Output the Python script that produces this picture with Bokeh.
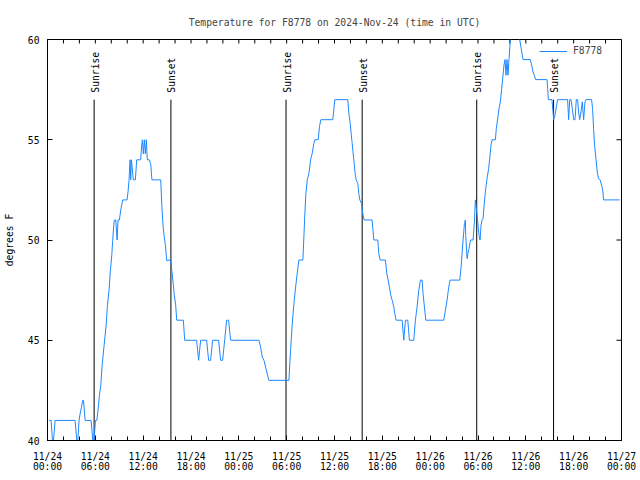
from math import pi
from bokeh.plotting import figure
from bokeh.models import Range1d, FixedTicker, Legend, LegendItem, ColumnDataSource
from bokeh.core.properties import value
from bokeh.embed import file_html
from bokeh.resources import INLINE

# ---- data (hours since 2024-11-24 00:00 UTC, degrees F) ----
hours = [0.20, 0.45, 0.62, 0.75, 0.96, 3.46, 3.67, 3.80, 3.96, 4.09, 4.26, 4.42, 4.51, 4.72,
         5.47, 5.68, 5.84, 6.01, 6.18, 6.34, 6.51, 6.68, 6.85, 7.10, 7.35, 7.52, 7.72, 7.89,
         8.06, 8.18, 8.31, 8.39, 8.56, 8.73, 8.85, 9.02, 9.19, 9.44, 9.98, 10.10, 10.23,
         10.36, 10.44, 10.52, 10.77, 11.02, 11.19, 11.69, 11.81, 11.90, 12.02, 12.15, 12.27,
         12.40, 12.52, 12.77, 12.94, 13.10, 14.20, 14.37, 14.49, 14.62, 14.79, 14.95, 15.45,
         15.66, 15.79, 15.91, 16.08, 16.21, 17.04, 17.21, 18.71, 18.83, 18.96, 19.08, 19.21,
         19.96, 20.21, 20.46, 20.71, 21.46, 21.72, 21.97, 22.22, 22.47, 22.72, 22.97, 26.52,
         26.73, 26.94, 27.15, 27.36, 27.56, 27.77, 30.28, 30.49, 30.70, 30.91, 31.12, 31.32,
         31.53, 32.03, 32.16, 32.28, 32.41, 32.58, 32.79, 33.00, 33.20, 33.41, 33.54, 33.96,
         34.12, 34.29, 35.79, 36.04, 37.67, 37.80, 37.97, 38.09, 38.22, 38.34, 38.47, 38.59,
         38.72, 38.93, 39.05, 39.18, 39.39, 39.55, 39.72, 40.72, 40.93, 41.43, 41.56, 41.73,
         42.39, 42.56, 42.73, 42.89, 43.06, 43.23, 43.44, 43.56, 43.73, 44.48, 44.69, 44.90,
         45.19, 45.40, 45.94, 46.15, 46.36, 46.57, 46.78, 46.99, 47.11, 47.28, 47.45, 49.70,
         49.91, 50.12, 50.33, 50.50, 51.71, 51.88, 52.00, 52.13, 52.30, 52.42, 52.46, 52.63,
         52.76, 52.88, 53.05, 53.38, 53.55, 53.67, 53.80, 53.97, 54.13, 54.26, 54.38, 54.51,
         54.63, 54.80, 54.97, 55.13, 55.34, 55.47, 55.63, 55.76, 56.18, 56.30, 56.47, 56.64,
         56.80, 56.97, 57.14, 57.26, 57.39, 57.51, 57.64, 57.76, 57.89, 58.06, 58.30, 59.00,
         59.23, 59.65, 60.56, 60.73, 60.89, 61.06, 61.23, 62.65, 62.74, 62.82, 63.28, 63.41,
         63.49, 63.66, 63.83, 63.99, 65.24, 65.37, 65.50, 65.66, 65.83, 66.00, 66.17, 66.33,
         66.50, 66.62, 66.75, 66.92, 67.08, 67.25, 67.42, 67.54, 68.25, 68.37, 68.50, 68.62,
         68.79, 68.96, 69.12, 69.33, 69.54, 69.67, 69.75, 71.76]
temps = [41, 41, 40, 40, 41, 41, 40, 40, 41, 41.33, 41.66, 42, 42, 41,
         41, 40, 40, 41, 41, 41.5, 42.25, 42.75, 43.74, 44.74, 45.74, 46.74, 47.49, 48.49,
         49.23, 49.98, 50.73, 51, 51, 50, 51, 51, 51.5, 52, 52, 52.4, 53,
         54, 53, 54, 53, 53, 54, 54, 54.7, 55, 54.3, 55, 54.3,
         55, 54, 54, 53.8, 53, 53, 51.48, 50.73, 50.23, 49.73, 48.98, 49,
         48.24, 47.74, 47.24, 46.74, 46, 46, 45, 45, 44.5, 44, 44.5, 45,
         45, 44, 44, 45, 45, 44, 44, 45, 46, 46, 45, 45,
         44.67, 44.16, 44, 43.66, 43.33, 43, 43, 44.49, 45.82, 46.82, 47.65, 48.32,
         49, 49, 50.15, 51.31, 52.31, 53, 53.31, 54, 54.31, 54.81, 55, 55,
         55.67, 56, 56, 57, 57, 56.31, 55.81, 55.31, 54.81, 54.31, 53.81, 53.31,
         53, 52.81, 52.31, 52, 51.81, 51.31, 51, 51, 50, 50, 49.32, 49,
         49, 48.32, 48, 47.65, 47.24, 47, 46.66, 46.33, 46, 46, 45, 46,
         46, 45, 45, 46, 46.66, 47.49, 48, 48, 47.32, 46.66, 46, 46,
         46.49, 47, 47.65, 48, 48, 48.65, 49.32, 50, 50.82, 51, 50.23, 49.07,
         49.4, 49.57, 50, 50, 50.9, 52, 51.56, 50.9, 50.23, 50, 50.73, 51,
         51.06, 51.9, 52.56, 53.06, 53.56, 54.06, 54.73, 55, 55, 55.56, 56.06, 56.56,
         56.89, 57.55, 58.22, 58.72, 59, 58.22, 59, 58.22, 59, 60, 61, 61,
         60, 59, 59, 58.72, 58.39, 58.22, 58, 58, 57.55, 57, 57, 56.39,
         56, 56.22, 56.64, 57, 57, 56, 57, 57, 56.56, 56, 56, 57,
         57, 56.39, 56, 56.39, 56.89, 56, 56.89, 57, 57, 56.56, 55.56, 54.73,
         54.06, 53.39, 53.06, 53, 52.68, 52.4, 52, 52]

event_hours = [5.85, 15.48, 29.92, 39.47, 53.84, 63.48]
event_labels = ["Sunrise", "Sunset", "Sunrise", "Sunset", "Sunrise", "Sunset"]

x_ticks = [0, 6, 12, 18, 24, 30, 36, 42, 48, 54, 60, 66, 72]
x_tick_labels = ["11/24\n00:00", "11/24\n06:00", "11/24\n12:00", "11/24\n18:00",
                 "11/25\n00:00", "11/25\n06:00", "11/25\n12:00", "11/25\n18:00",
                 "11/26\n00:00", "11/26\n06:00", "11/26\n12:00", "11/26\n18:00",
                 "11/27\n00:00"]
x_minor_ticks = list(range(0, 73, 2))
y_ticks = [40, 45, 50, 55, 60]

X0, X1, Y0, Y1 = 0, 72, 40, 60
FONT = "DejaVu Sans Mono"
FS = "9.7px"
LINE_COLOR = "#1e88ff"
W, H = 640, 480
BL, BR, BT, BB = 47, 19, 39, 40
TICK_PX = 5

p = figure(width=W, height=H, x_range=Range1d(X0, X1), y_range=Range1d(Y0, Y1),
           output_backend="svg", toolbar_location=None,
           min_border_left=BL, min_border_right=BR, min_border_top=BT, min_border_bottom=BB,
           title="Temperature for F8778 on 2024-Nov-24 (time in UTC)")
p.title.text_font = FONT
p.title.text_font_size = FS
p.title.text_font_style = "normal"
p.title.align = "center"
p.title.standoff = 24
p.grid.visible = False
p.outline_line_color = "black"
p.outline_line_width = 1
p.background_fill_color = "white"
p.border_fill_color = "white"

xa = p.xaxis[0]
xa.ticker = FixedTicker(ticks=x_ticks, minor_ticks=x_minor_ticks)
xa.major_label_overrides = {t: lab for t, lab in zip(x_ticks, x_tick_labels)}
ya = p.yaxis[0]
ya.ticker = FixedTicker(ticks=y_ticks, minor_ticks=[])
ya.axis_label = "degrees F"
ya.axis_label_text_font_style = "normal"
ya.axis_label_standoff = 10

for ax in (xa, ya):
    ax.major_label_text_font = FONT
    ax.major_label_text_font_size = FS
    ax.axis_label_text_font = FONT
    ax.axis_label_text_font_size = FS
    ax.major_tick_in = TICK_PX
    ax.major_tick_out = 0
    ax.minor_tick_in = TICK_PX - 1
    ax.minor_tick_out = 0
    ax.axis_line_color = "black"
    ax.major_tick_line_color = "black"
    ax.minor_tick_line_color = "black"
    ax.major_label_text_color = "black"
    ax.axis_label_text_color = "black"
xa.major_label_standoff = 10
xa.major_label_text_line_height = 0.95
ya.major_label_standoff = 8

# mirrored ticks on the top and right borders (from the tick arrays)
px_per_x = (W - BL - BR) / (X1 - X0)
px_per_y = (H - BT - BB) / (Y1 - Y0)
p.segment(x0=x_minor_ticks, y0=[Y1] * len(x_minor_ticks), x1=x_minor_ticks,
          y1=[Y1 - (TICK_PX - 1) / px_per_y] * len(x_minor_ticks),
          line_color="black", line_width=1)
p.segment(x0=[X1] * len(y_ticks), y0=y_ticks, x1=[X1 - TICK_PX / px_per_x] * len(y_ticks),
          y1=y_ticks, line_color="black", line_width=1)

# sunrise / sunset markers
ev = ColumnDataSource(dict(x=event_hours, label=event_labels))
p.segment(x0="x", y0=Y0, x1="x", y1=57, source=ev, line_color="black", line_width=1)
p.text(x="x", y=57.35, text="label", source=ev, angle=pi / 2, text_align="left",
       text_baseline="middle", text_font=value(FONT), text_font_size=FS,
       text_color="black", x_offset=1)

r = p.line(hours, temps, line_color=LINE_COLOR, line_width=1)

legend = Legend(items=[LegendItem(label="F8778", renderers=[r])], location=(492, 384),
                border_line_color=None, background_fill_alpha=0, padding=0, margin=0,
                glyph_width=28, glyph_height=10, label_standoff=6, label_height=10,
                label_text_font=FONT, label_text_font_size=FS, spacing=0)
p.add_layout(legend)

open("out.html", "w").write(file_html(p, INLINE))
